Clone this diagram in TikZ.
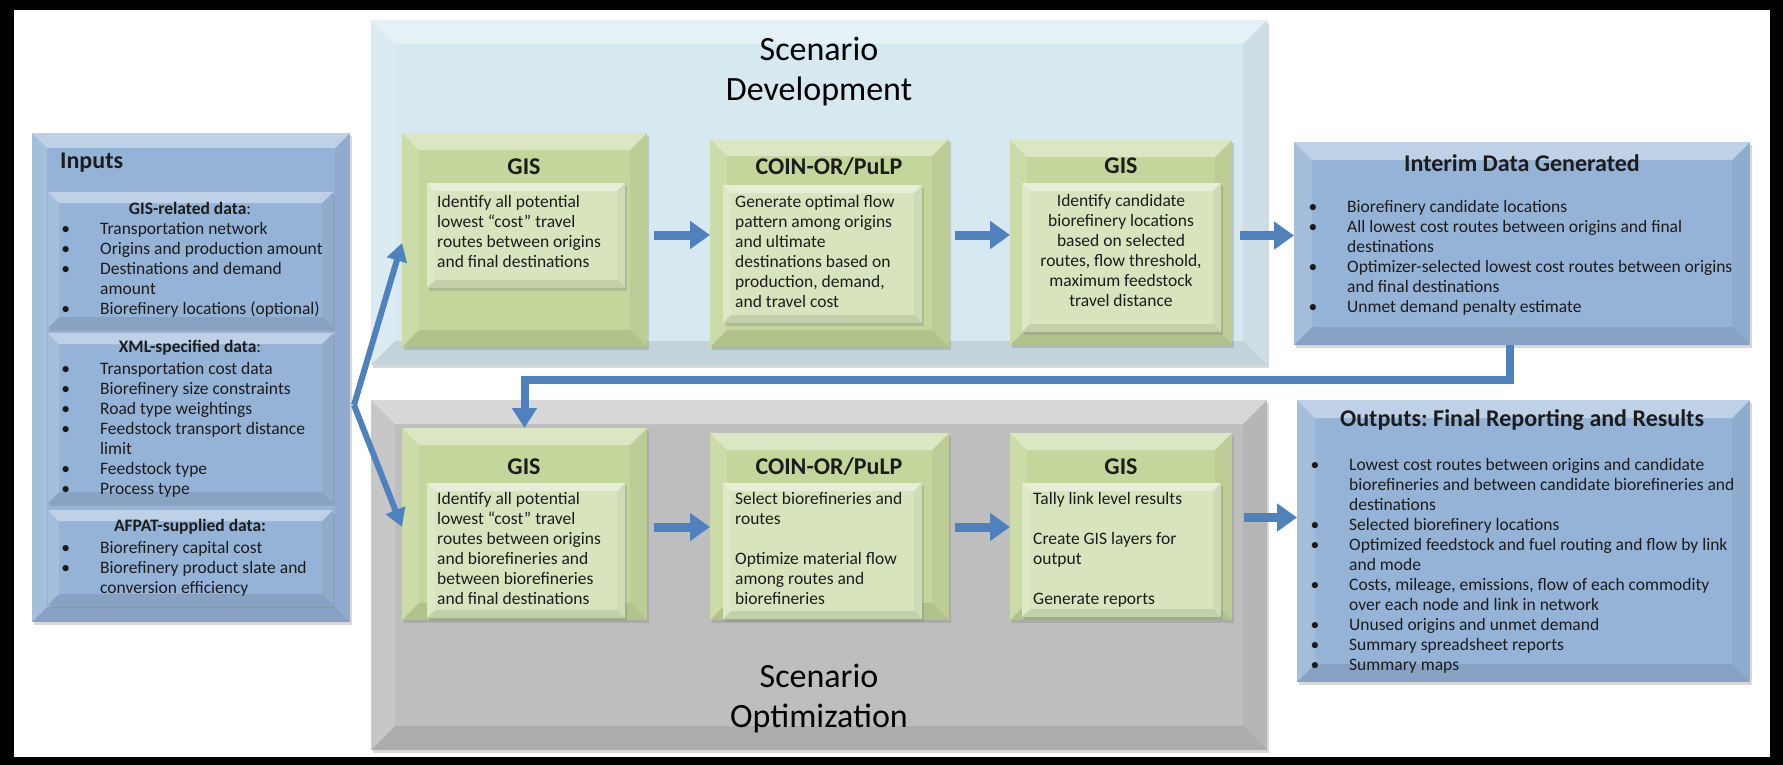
\documentclass[tikz,border=0pt]{standalone}
\usepackage{fontspec}
\setmainfont{Carlito}
\usepackage{xcolor}
\usetikzlibrary{arrows.meta,positioning,calc,shadows}

\definecolor{inblue}{HTML}{95B3D7}
\definecolor{devblue}{HTML}{D6E8F0}
\definecolor{optgray}{HTML}{BEBEBE}
\definecolor{gisgreen}{HTML}{C3D69B}
\definecolor{innergreen}{HTML}{D8E4BE}
\definecolor{flowblue}{HTML}{4F81BD}
\definecolor{txt}{HTML}{1C1C1C}

\tikzset{
  box/.style={anchor=north west,inner sep=0pt,outer sep=0pt,draw=none},
  shade box/.style={drop shadow={shadow xshift=2pt,shadow yshift=-3pt,opacity=.3}},
  bluebox/.style={box,shade box,fill=inblue},
  devbox/.style={box,shade box,fill=devblue},
  optbox/.style={box,shade box,fill=optgray},
  greenbox/.style={box,shade box,fill=gisgreen},
  innerbox/.style={box,shade box,fill=innergreen},
  heading/.style={font=\fontsize{24}{26}\selectfont\bfseries,text=txt,inner sep=0pt},
  subhead/.style={font=\fontsize{17.5}{20}\selectfont\bfseries,text=txt,inner sep=0pt},
  body/.style={anchor=north west,align=left,inner sep=0pt,text=txt},
  bigtitle/.style={font=\fontsize{34}{40}\selectfont,align=center,text=black,inner sep=0pt},
  flow/.style={draw=flowblue,line width=9pt,-{Triangle[length=20pt,width=27pt]}},
  feed/.style={draw=flowblue,line width=6pt,-{Triangle[length=18pt,width=20pt]}},
  loopback/.style={draw=flowblue,line width=8pt,-{Triangle[length=20pt,width=24pt]}},
}

% bevelled edges of a box: node name, depth
\newcommand{\boxbevel}[2]{%
  \fill[white,opacity=.4] (#1.north west) -- (#1.north east) -- ($(#1.north east)+(-#2,#2)$) -- ($(#1.north west)+(#2,#2)$) -- cycle;
  \fill[white,opacity=.15] (#1.north west) -- ($(#1.north west)+(#2,#2)$) -- ($(#1.south west)+(#2,-#2)$) -- (#1.south west) -- cycle;
  \fill[black,opacity=.04] (#1.north east) -- ($(#1.north east)+(-#2,#2)$) -- ($(#1.south east)+(-#2,-#2)$) -- (#1.south east) -- cycle;
  \fill[black,opacity=.09] (#1.south west) -- ($(#1.south west)+(#2,-#2)$) -- ($(#1.south east)+(-#2,-#2)$) -- (#1.south east) -- cycle;
}
\newcommand{\itm}{\llap{\textbullet\hspace{30pt}}}

\begin{document}
\begin{tikzpicture}[x=1pt,y=-1pt,font=\fontsize{17.5}{20}\selectfont]
  \useasboundingbox (0,0) rectangle (1783,765);
  % frame
  \fill[black] (0,0) rectangle (1783,765);
  \fill[white] (14,10) rectangle (1770,757);

  % inputs
  \node[bluebox,minimum width=318pt,minimum height=489pt] (inputs) at (32,133) {};
  \boxbevel{inputs}{15}
  \node[bluebox,minimum width=285pt,minimum height=136pt] (gisdata) at (48,192) {};
  \boxbevel{gisdata}{11}
  \node[bluebox,minimum width=285pt,minimum height=170pt] (xmldata) at (48,333) {};
  \boxbevel{xmldata}{11}
  \node[bluebox,minimum width=285pt,minimum height=95pt] (afpatdata) at (48,510) {};
  \boxbevel{afpatdata}{11}

  % scenario panels
  \node[devbox,minimum width=896pt,minimum height=345pt] (dev) at (371,20) {};
  \boxbevel{dev}{24}
  \node[optbox,minimum width=896pt,minimum height=350pt] (opt) at (371,400) {};
  \boxbevel{opt}{24}

  % development row
  \node[greenbox,minimum width=245pt,minimum height=214pt] (gisA) at (402,133) {};
  \boxbevel{gisA}{17}
  \node[innerbox,minimum width=198pt,minimum height=105pt] (gisAin) at (427,183) {};
  \boxbevel{gisAin}{8}
  \node[greenbox,minimum width=239pt,minimum height=208pt] (coinA) at (710,139) {};
  \boxbevel{coinA}{17}
  \node[innerbox,minimum width=199pt,minimum height=138pt] (coinAin) at (723,185) {};
  \boxbevel{coinAin}{8}
  \node[greenbox,minimum width=222pt,minimum height=205pt] (gisB) at (1010,140) {};
  \boxbevel{gisB}{17}
  \node[innerbox,minimum width=199pt,minimum height=149pt] (gisBin) at (1022,183) {};
  \boxbevel{gisBin}{8}

  % optimization row
  \node[greenbox,minimum width=245pt,minimum height=192pt] (gisC) at (402,428) {};
  \boxbevel{gisC}{17}
  \node[innerbox,minimum width=198pt,minimum height=135pt] (gisCin) at (427,483) {};
  \boxbevel{gisCin}{8}
  \node[greenbox,minimum width=239pt,minimum height=187pt] (coinD) at (710,433) {};
  \boxbevel{coinD}{17}
  \node[innerbox,minimum width=199pt,minimum height=136pt] (coinDin) at (723,483) {};
  \boxbevel{coinDin}{8}
  \node[greenbox,minimum width=222pt,minimum height=187pt] (gisE) at (1010,433) {};
  \boxbevel{gisE}{17}
  \node[innerbox,minimum width=199pt,minimum height=134pt] (gisEin) at (1022,483) {};
  \boxbevel{gisEin}{8}

  % results
  \node[bluebox,minimum width=456pt,minimum height=203pt] (interim) at (1294,142) {};
  \boxbevel{interim}{18}
  \node[bluebox,minimum width=453pt,minimum height=282pt] (outputs) at (1297,400) {};
  \boxbevel{outputs}{18}

  % texts
  \node[heading,anchor=west] (inputs-t) at (60,163) {Inputs};
  \node[subhead] (gisdata-t) at (190,208) {GIS-related data\mdseries:};
  \node[body] (gisdata-l) at (100,222) {\itm Transportation network\\
    \itm Origins and production amount\\
    \itm Destinations and demand\\
    amount\\
    \itm Biorefinery locations (optional)};
  \node[subhead] (xmldata-t) at (190,348) {XML-specified data\mdseries:};
  \node[body] (xmldata-l) at (100,362) {\itm Transportation cost data\\
    \itm Biorefinery size constraints\\
    \itm Road type weightings\\
    \itm Feedstock transport distance\\
    limit\\
    \itm Feedstock type\\
    \itm Process type};
  \node[subhead] (afpatdata-t) at (190,527) {AFPAT-supplied data:};
  \node[body] (afpatdata-l) at (100,541) {\itm Biorefinery capital cost\\
    \itm Biorefinery product slate and\\
    conversion efficiency};

  \node[bigtitle] (dev-t) at (819,72) {Scenario\\Development};
  \node[bigtitle] (opt-t) at (819,699) {Scenario\\Optimization};

  \node[heading] (gisA-t) at (524,167) {GIS};
  \node[body] (gisA-l) at (437,195) {Identify all potential\\
    lowest “cost” travel\\
    routes between origins\\
    and final destinations};
  \node[heading] (coinA-t) at (829,167) {COIN-OR/PuLP};
  \node[body] (coinA-l) at (735,195) {Generate optimal flow\\
    pattern among origins\\
    and ultimate\\
    destinations based on\\
    production, demand,\\
    and travel cost};
  \node[heading] (gisB-t) at (1121,166) {GIS};
  \node[body,anchor=north,align=center] (gisB-l) at (1121,194) {Identify candidate\\
    biorefinery locations\\
    based on selected\\
    routes, flow threshold,\\
    maximum feedstock\\
    travel distance};

  \node[heading] (gisC-t) at (524,467) {GIS};
  \node[body] (gisC-l) at (437,492) {Identify all potential\\
    lowest “cost” travel\\
    routes between origins\\
    and biorefineries and\\
    between biorefineries\\
    and final destinations};
  \node[heading] (coinD-t) at (829,467) {COIN-OR/PuLP};
  \node[body] (coinD-l) at (735,492) {Select biorefineries and\\
    routes\\[20pt]
    Optimize material flow\\
    among routes and\\
    biorefineries};
  \node[heading] (gisE-t) at (1121,467) {GIS};
  \node[body] (gisE-l) at (1033,492) {Tally link level results\\[20pt]
    Create GIS layers for\\
    output\\[20pt]
    Generate reports};

  \node[heading] (interim-t) at (1522,163) {Interim Data Generated};
  \node[body] (interim-l) at (1347,200) {\itm Biorefinery candidate locations\\
    \itm All lowest cost routes between origins and final\\
    destinations\\
    \itm Optimizer-selected lowest cost routes between origins\\
    and final destinations\\
    \itm Unmet demand penalty estimate};
  \node[heading] (outputs-t) at (1522,420) {Outputs:\ Final Reporting and Results};
  \node[body] (outputs-l) at (1349,458) {\itm Lowest cost routes between origins and candidate\\
    biorefineries and between candidate biorefineries and\\
    destinations\\
    \itm Selected biorefinery locations\\
    \itm Optimized feedstock and fuel routing and flow by link\\
    and mode\\
    \itm Costs, mileage, emissions, flow of each commodity\\
    over each node and link in network\\
    \itm Unused origins and unmet demand\\
    \itm Summary spreadsheet reports\\
    \itm Summary maps};

  % connectors
  \coordinate (fork) at (354,405);
  \draw[feed] (fork) -- ([yshift=-3pt]gisA.west);
  \draw[feed] (fork) -- ([yshift=-3pt]gisC.west);
  \draw[flow] ([xshift=7pt,yshift=5pt]gisA.east) -- ([yshift=5pt]gisA.east -| coinA.west);
  \draw[flow] ([xshift=6pt,yshift=8pt]coinA.east) -- ([yshift=8pt]coinA.east -| gisB.west);
  \draw[flow] ([xshift=8pt,yshift=7pt]gisB.east) -- ([yshift=7pt]gisB.east -| interim.west);
  \draw[flow] ([xshift=7pt,yshift=-3pt]gisC.east) -- ([yshift=-3pt]gisC.east -| coinD.west);
  \draw[flow] ([xshift=6pt,yshift=-0.5pt]coinD.east) -- ([yshift=-0.5pt]coinD.east -| gisE.west);
  \draw[flow] ([xshift=12pt,yshift=9pt]gisE.east) -- ([yshift=9pt]gisE.east -| outputs.west);
  \draw[loopback] ([xshift=-12pt]interim.south) -- ++(0,35) -| (gisC.north);
\end{tikzpicture}
\end{document}
